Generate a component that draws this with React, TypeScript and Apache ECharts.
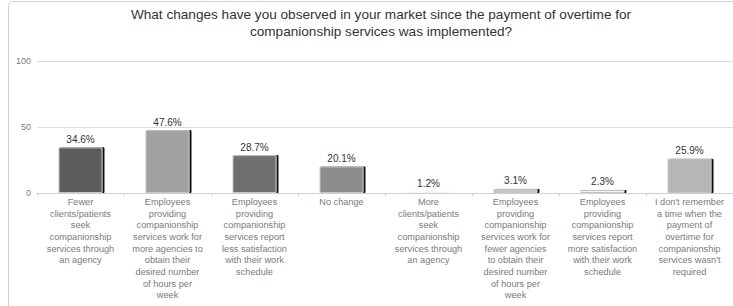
import React, { useEffect, useRef } from "react";
import * as echarts from "echarts";

const titleText =
  "What changes have you observed in your market since the payment of overtime for\ncompanionship services was implemented?";

const categories = [
  "Fewer\nclients/patients\nseek\ncompanionship\nservices through\nan agency",
  "Employees\nproviding\ncompanionship\nservices work for\nmore agencies to\nobtain their\ndesired number\nof hours per\nweek",
  "Employees\nproviding\ncompanionship\nservices report\nless satisfaction\nwith their work\nschedule",
  "No change",
  "More\nclients/patients\nseek\ncompanionship\nservices through\nan agency",
  "Employees\nproviding\ncompanionship\nservices work for\nfewer agencies\nto obtain their\ndesired number\nof hours per\nweek",
  "Employees\nproviding\ncompanionship\nservices report\nmore satisfaction\nwith their work\nschedule",
  "I don't remember\na time when the\npayment of\novertime for\ncompanionship\nservices wasn't\nrequired",
];

const values = [34.6, 47.6, 28.7, 20.1, 1.2, 3.1, 2.3, 25.9];

const barColors = [
  "#5c5c5c",
  "#a2a2a2",
  "#6f6f6f",
  "#8c8c8c",
  "#f6f6f6",
  "#c6c6c6",
  "#f4f4f4",
  "#b6b6b6",
];

const yTicks = [0, 50, 100];

export default function App() {
  const ref = useRef<HTMLDivElement>(null);
  useEffect(() => {
    if (!ref.current) return;
    const chart = echarts.init(ref.current, undefined, { renderer: "svg" });
    chart.setOption({
      animation: false,
      textStyle: { fontFamily: "Liberation Sans, Arial, sans-serif" },
      title: {
        text: titleText,
        left: 376,
        textAlign: "center",
        top: 1,
        textStyle: {
          fontSize: 13.6,
          fontWeight: "normal",
          color: "#333",
          lineHeight: 17,
          fontFamily: "Liberation Sans, Arial, sans-serif",
        },
      },
      graphic: [
        {
          type: "rect",
          shape: { x: 8.5, y: 1.5, width: 740, height: 320, r: 4 },
          style: { fill: "none", stroke: "#d0d0d0", lineWidth: 1 },
          silent: true,
        },
      ],
      grid: { left: 37, right: 0, top: 61, bottom: 113, containLabel: false },
      xAxis: {
        type: "category",
        data: categories,
        axisLine: { show: true, lineStyle: { color: "#d0d0d0" } },
        axisTick: { show: true, length: 3, lineStyle: { color: "#cfcfcf" } },
        axisLabel: {
          interval: 0,
          fontSize: 9.2,
          color: "#7a7a7a",
          lineHeight: 11.7,
          margin: 3,
          fontFamily: "Liberation Sans, Arial, sans-serif",
        },
      },
      yAxis: {
        type: "value",
        min: yTicks[0],
        max: yTicks[yTicks.length - 1],
        interval: 50,
        axisLine: { show: false },
        axisTick: { show: false },
        splitLine: { lineStyle: { color: "#dcdcdc" } },
        axisLabel: {
          fontSize: 9,
          color: "#7a7a7a",
          margin: 6,
          fontFamily: "Liberation Sans, Arial, sans-serif",
        },
      },
      series: [
        {
          type: "bar",
          barWidth: 44,
          data: values.map((v, i) => ({
            value: v,
            itemStyle:
              i === 4
                ? { color: barColors[i], borderWidth: 0 }
                : {
                    color: barColors[i],
                    borderColor: "#c4c4c4",
                    borderWidth: 1,
                    shadowColor: "#111",
                    shadowOffsetX: 2,
                    shadowOffsetY: 0,
                    shadowBlur: 0,
                  },
          })),
          label: {
            show: true,
            position: "top",
            distance: 3,
            formatter: (p: any) => p.value.toFixed(1) + "%",
            fontSize: 10,
            color: "#333",
            fontFamily: "Liberation Sans, Arial, sans-serif",
          },
        },
      ],
    });
    return () => chart.dispose();
  }, []);
  return (
    <div
      ref={ref}
      style={{ position: "absolute", left: 0, top: 0, width: 733, height: 306 }}
    />
  );
}
